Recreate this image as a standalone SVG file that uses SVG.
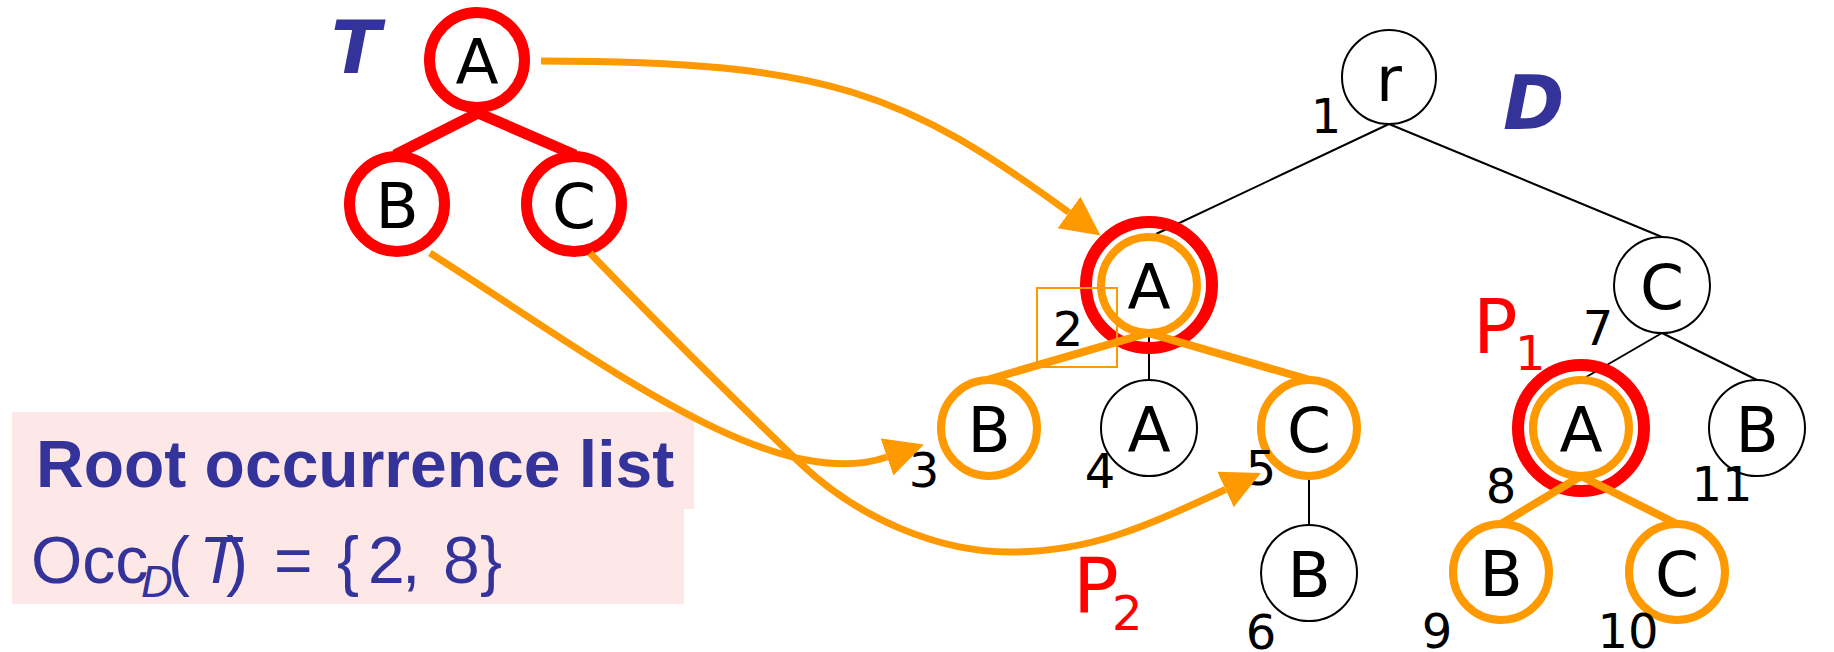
<svg xmlns="http://www.w3.org/2000/svg" width="1834" height="652" viewBox="0 0 1834 652">
<defs>
<style>
.lbl{font-family:"DejaVu Sans",sans-serif;font-size:63px;fill:#000;text-anchor:middle}
.num{font-family:"DejaVu Sans",sans-serif;font-size:48px;fill:#000;text-anchor:middle}
.tn{fill:#fff;stroke:#ff0000;stroke-width:11}
.dn{fill:#fff;stroke:#000;stroke-width:2}
.on{fill:#fff;stroke:#ff9900;stroke-width:8}
.rr{fill:none;stroke:#ff0000;stroke-width:12}
.te{stroke:#ff0000;stroke-width:11;fill:none}
.de{stroke:#000;stroke-width:2;fill:none}
.oe{stroke:#ff9900;stroke-width:8;fill:none}
.arr{stroke:#ff9900;stroke-width:7;fill:none;marker-end:url(#ah)}
.pl{font-family:"DejaVu Sans",sans-serif;fill:#ff0000}
.big{font-family:"DejaVu Sans",sans-serif;font-weight:bold;font-style:oblique;fill:#333399}
</style>
<marker id="ah" markerUnits="userSpaceOnUse" markerWidth="40" markerHeight="40" viewBox="0 -20 40 40" refX="0" refY="0" orient="auto">
<path d="M0,-19.5 L39,0 L0,19.5 z" fill="#ff9900"/>
</marker>
</defs>
<rect width="1834" height="652" fill="#fff"/>

<g id="rootlist">
<rect x="12" y="412" width="682" height="97" fill="#fde7e7"/>
<rect x="12" y="508" width="672" height="96" fill="#fde7e7"/>
<text x="36" y="487" font-family="Liberation Sans, Arial, sans-serif" font-weight="bold" font-size="66" fill="#333399">Root occurrence list</text>
<text font-family="Liberation Sans, Arial, sans-serif" font-size="66" fill="#333399"><tspan x="31" y="583">Occ</tspan><tspan x="141" y="597" font-size="44" font-style="italic">D</tspan><tspan x="168" y="583">(</tspan><tspan x="199" y="583" font-style="italic">T</tspan><tspan x="226" y="583">)</tspan><tspan x="274" y="583">=</tspan><tspan x="337" y="583">{</tspan><tspan x="368" y="583">2</tspan><tspan x="402" y="583">,</tspan><tspan x="443" y="583">8</tspan><tspan x="480" y="583">}</tspan></text>
</g>

<g id="labels">
<text class="big" x="331" y="73" font-size="73">T</text>
<text class="big" x="1503" y="129" font-size="74">D</text>
<text class="pl" x="1473" y="353" font-size="74">P</text>
<text class="pl" x="1515" y="370" font-size="48">1</text>
<text class="pl" x="1073" y="613" font-size="76">P</text>
<text class="pl" x="1112" y="630" font-size="48">2</text>
</g>

<g id="edges">
<line class="te" x1="478" y1="113" x2="395" y2="155"/>
<line class="te" x1="478" y1="113" x2="575" y2="155"/>
<line class="de" x1="1389" y1="124" x2="1156" y2="234"/>
<line class="de" x1="1389" y1="124" x2="1662" y2="237"/>
<line class="de" x1="1149" y1="333" x2="1149" y2="380"/>
<line class="de" x1="1309" y1="477" x2="1309" y2="525"/>
<line class="de" x1="1662" y1="333" x2="1581" y2="380"/>
<line class="de" x1="1662" y1="333" x2="1757" y2="380"/>
</g>

<g id="T_A"><circle class="tn" cx="477" cy="60" r="47.5"/><text class="lbl" x="477" y="84">A</text></g>
<g id="T_B"><circle class="tn" cx="397" cy="204" r="47.5"/><text class="lbl" x="397" y="228">B</text></g>
<g id="T_C"><circle class="tn" cx="574" cy="204" r="47.5"/><text class="lbl" x="574" y="228">C</text></g>

<g id="D1"><circle class="dn" cx="1389" cy="77" r="47"/><text class="lbl" x="1389" y="101">r</text><text class="num" x="1326" y="133">1</text></g>
<g id="D2"><circle class="on" cx="1149" cy="285" r="48"/><circle class="rr" cx="1149" cy="285" r="63"/><text class="lbl" x="1149" y="309">A</text><rect x="1037" y="288" width="80" height="79" fill="none" stroke="#ff9900" stroke-width="2"/><text class="num" x="1068" y="346">2</text></g>
<g id="D3"><circle class="on" cx="989" cy="428" r="48"/><text class="lbl" x="989" y="452">B</text><text class="num" x="924" y="487">3</text></g>
<g id="D4"><circle class="dn" cx="1149" cy="428" r="48"/><text class="lbl" x="1149" y="452">A</text><text class="num" x="1100" y="488">4</text></g>
<g id="D5"><circle class="on" cx="1309" cy="428" r="48"/><text class="lbl" x="1309" y="452">C</text><text class="num" x="1261" y="485">5</text></g>
<g id="D6"><circle class="dn" cx="1309" cy="573" r="48"/><text class="lbl" x="1309" y="597">B</text><text class="num" x="1261" y="649">6</text></g>
<g id="D7"><circle class="dn" cx="1662" cy="285" r="48"/><text class="lbl" x="1662" y="309">C</text><text class="num" x="1598" y="345">7</text></g>
<g id="D8"><circle class="on" cx="1581" cy="428" r="48"/><circle class="rr" cx="1581" cy="428" r="63"/><text class="lbl" x="1581" y="452">A</text><text class="num" x="1501" y="503">8</text></g>
<g id="D9"><circle class="on" cx="1501" cy="572" r="48"/><text class="lbl" x="1501" y="596">B</text><text class="num" x="1437" y="648">9</text></g>
<g id="D10"><circle class="on" cx="1677" cy="572" r="48"/><text class="lbl" x="1677" y="596">C</text><text class="num" x="1628" y="648">10</text></g>
<g id="D11"><circle class="dn" cx="1757" cy="428" r="48"/><text class="lbl" x="1757" y="452">B</text><text class="num" x="1722" y="501">11</text></g>

<g id="connectors">
<line class="oe" x1="1148" y1="333" x2="987" y2="380"/>
<line class="oe" x1="1148" y1="333" x2="1310" y2="380"/>
<line class="oe" x1="1581" y1="476" x2="1501" y2="524"/>
<line class="oe" x1="1581" y1="476" x2="1677" y2="524"/>
<path class="arr" d="M541,61 C831,61 907,94.5 1069,212.5"/>
<path class="arr" d="M430,253 C599,360 773,496 887,457"/>
<path class="arr" d="M590,253 C660,326 740,405 800,463 C860,520 940,552 1010,552 C1090,552 1144,527.4 1225.5,489.5"/>
</g>
</svg>
